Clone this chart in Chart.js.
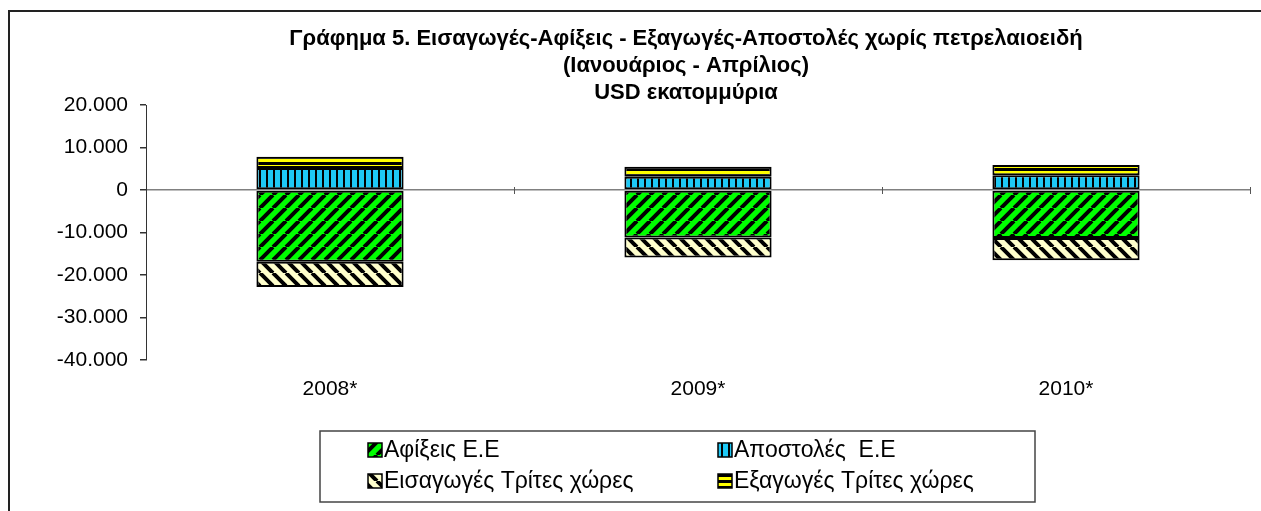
<!DOCTYPE html>
<html lang="el">
<head>
<meta charset="utf-8">
<title>Γράφημα 5</title>
<script src="https://cdn.jsdelivr.net/npm/chart.js@4"></script>
<style>
  html, body { margin: 0; padding: 0; background: #fff; }
  #wrap { position: relative; width: 1261px; height: 511px; }
</style>
</head>
<body>
<div id="wrap"><canvas id="chart" width="1261" height="511"></canvas></div>
<script>
// --- Data (USD εκατομμύρια, Ιανουάριος - Απρίλιος) ---
const categories = ['2008*', '2009*', '2010*'];
const afixeisEE = [-16900, -11200, -11300];        // Αφίξεις Ε.Ε
const apostolesEE = [5200, 3100, 3500];           // Αποστολές Ε.Ε
const eisagogesTrites = [-5900, -4700, -5200];    // Εισαγωγές Τρίτες χώρες
const exagogesTrites = [2600, 2400, 2400];        // Εξαγωγές Τρίτες χώρες
const yTicks = [20000, 10000, 0, -10000, -20000, -30000, -40000];

const titleLines = [
  'Γράφημα 5. Εισαγωγές-Αφίξεις - Εξαγωγές-Αποστολές χωρίς πετρελαιοειδή',
  '(Ιανουάριος - Απρίλιος)',
  'USD εκατομμύρια'
];

const FONT = '"Liberation Sans", Arial, sans-serif';

// --- Format helpers ---
const fmtNum = (v) => {
  const s = String(Math.abs(v)).replace(/\B(?=(\d{3})+(?!\d))/g, '.');
  return v < 0 ? '-' + s : s;
};

// --- Fill patterns (Excel style hatches) ---
function makePattern(bg, kind) {
  const c = document.createElement('canvas');
  const size = kind === 'vert' ? 7 : kind === 'horiz' ? 6 : 13;
  c.width = size;
  c.height = size;
  const g = c.getContext('2d');
  g.fillStyle = bg;
  g.fillRect(0, 0, size, size);
  g.fillStyle = '#000';
  g.strokeStyle = '#000';
  if (kind === 'vert') {
    g.fillRect(0, 0, 2, size);
  } else if (kind === 'horiz') {
    g.fillRect(0, 0, size, 3);
  } else {
    g.lineWidth = 4;
    g.beginPath();
    for (let k = -1; k <= 1; k++) {
      if (kind === 'up') {
        g.moveTo(k * size, size);
        g.lineTo(k * size + size, 0);
      } else {
        g.moveTo(k * size, 0);
        g.lineTo(k * size + size, size);
      }
    }
    g.stroke();
  }
  return g.createPattern(c, 'repeat');
}

const patGreen = makePattern('#00ff00', 'up');
const patBlue = makePattern('#1ec8f5', 'vert');
const patBeige = makePattern('#ffffcc', 'down');
const patYellow = makePattern('#ffff00', 'horiz');

// --- Custom plugin: title, frame, zero-line ticks, boxed legend ---
const decorPlugin = {
  id: 'decor',
  afterDraw(chart) {
    const { ctx, scales, data } = chart;
    const x = scales.x;
    const y = scales.y;
    ctx.save();

    // outer frame (cropped: only left & top visible)
    ctx.strokeStyle = '#222';
    ctx.lineWidth = 2;
    ctx.beginPath();
    ctx.moveTo(9, 511);
    ctx.lineTo(9, 11);
    ctx.lineTo(1261, 11);
    ctx.stroke();

    // title
    ctx.fillStyle = '#000';
    ctx.font = 'bold 22px ' + FONT;
    ctx.textAlign = 'center';
    ctx.textBaseline = 'middle';
    titleLines.forEach((t, i) => ctx.fillText(t, 686, 39 + i * 27));

    // tick marks on the zero line between categories
    const y0 = y.getPixelForValue(0);
    const half = (x.getPixelForValue(1) - x.getPixelForValue(0)) / 2;
    ctx.strokeStyle = '#555';
    ctx.lineWidth = 1;
    ctx.beginPath();
    for (let i = 0; i < categories.length; i++) {
      const px = Math.round(x.getPixelForValue(i) + half) + 0.5;
      ctx.moveTo(px, y0 - 3);
      ctx.lineTo(px, y0 + 4);
    }
    ctx.stroke();

    // legend box
    const box = { l: 320, t: 431, w: 715, h: 71 };
    ctx.strokeStyle = '#444';
    ctx.lineWidth = 1.5;
    ctx.strokeRect(box.l, box.t, box.w, box.h);

    const cols = [368, 718];
    const rows = [450, 481];
    ctx.font = '23px ' + FONT;
    ctx.textAlign = 'left';
    data.datasets.forEach((ds, i) => {
      const cx = cols[i % 2];
      const cy = rows[Math.floor(i / 2)];
      ctx.fillStyle = ds.backgroundColor;
      ctx.fillRect(cx, cy - 7, 14, 14);
      ctx.strokeStyle = '#000';
      ctx.lineWidth = 1.5;
      ctx.strokeRect(cx, cy - 7, 14, 14);
      ctx.fillStyle = '#000';
      ctx.fillText(ds.label, cx + 16, cy + 1);
    });
    ctx.restore();
  }
};

// --- Chart ---
const barStyle = {
  borderColor: '#000',
  borderWidth: 2,
  borderSkipped: false,
  barPercentage: 0.4,
  categoryPercentage: 1.0
};

new Chart(document.getElementById('chart').getContext('2d'), {
  type: 'bar',
  data: {
    labels: categories,
    datasets: [
      { label: 'Αφίξεις Ε.Ε', data: afixeisEE, backgroundColor: patGreen, ...barStyle },
      { label: 'Αποστολές  Ε.Ε', data: apostolesEE, backgroundColor: patBlue, ...barStyle },
      { label: 'Εισαγωγές Τρίτες χώρες', data: eisagogesTrites, backgroundColor: patBeige, ...barStyle },
      { label: 'Εξαγωγές Τρίτες χώρες', data: exagogesTrites, backgroundColor: patYellow, ...barStyle }
    ]
  },
  options: {
    responsive: false,
    animation: false,
    layout: { padding: { left: 0, right: 11, top: 105, bottom: 0 } },
    plugins: {
      legend: { display: false },
      title: { display: false },
      tooltip: { enabled: false }
    },
    scales: {
      x: {
        stacked: true,
        grid: { display: false, drawTicks: false },
        border: { display: false },
        ticks: {
          color: '#000',
          font: { family: FONT, size: 21 },
          padding: 17
        },
        afterFit: (s) => { s.height = 151; }
      },
      y: {
        stacked: true,
        min: -40000,
        max: 20000,
        afterBuildTicks: (s) => { s.ticks = yTicks.map(v => ({ value: v })); },
        ticks: {
          color: '#000',
          font: { family: FONT, size: 21 },
          padding: 12,
          callback: (v) => fmtNum(v)
        },
        grid: {
          drawOnChartArea: true,
          color: (c) => c.tick && c.tick.value === 0 ? '#808080' : 'rgba(0,0,0,0)',
          lineWidth: 1.5,
          tickColor: '#333',
          tickLength: 6
        },
        border: { display: true, color: '#333', width: 1 },
        afterFit: (s) => { s.width = 146; }
      }
    }
  },
  plugins: [decorPlugin]
});
</script>
</body>
</html>
